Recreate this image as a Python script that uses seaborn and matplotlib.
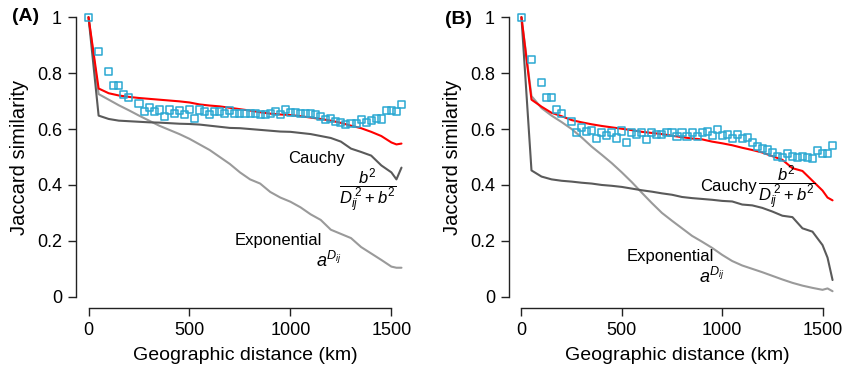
import numpy as np
import pandas as pd
import matplotlib
matplotlib.use("Agg")
import matplotlib.pyplot as plt
import seaborn as sns

# distance grid for the model curves (km)
line_dist = [0, 50, 100, 150, 200, 250, 300, 350, 400, 450, 500, 550, 600, 650, 700, 750,
             800, 850, 900, 950, 1000, 1050, 1100, 1150, 1200, 1250, 1300, 1350, 1400,
             1450, 1500, 1525, 1550]

# distance bins for observed similarity (km)
obs_dist = [0, 50, 100, 125, 150, 175, 200] + list(range(250, 1551, 25))

# panel A
obs_a = [1.0, 0.876, 0.805, 0.757, 0.757, 0.724, 0.712,
         0.690, 0.662, 0.676, 0.662, 0.668, 0.644, 0.668, 0.655, 0.667, 0.652, 0.670,
         0.638, 0.668, 0.664, 0.652, 0.662, 0.662, 0.657, 0.667, 0.655, 0.655, 0.655,
         0.657, 0.655, 0.652, 0.652, 0.657, 0.662, 0.652, 0.670, 0.660, 0.660, 0.655,
         0.655, 0.655, 0.652, 0.644, 0.635, 0.638, 0.627, 0.624, 0.615, 0.619, 0.620,
         0.635, 0.624, 0.632, 0.638, 0.636, 0.667, 0.667, 0.662, 0.687]
fit_a = [1.0, 0.745, 0.728, 0.720, 0.715, 0.711, 0.708, 0.705, 0.702, 0.699, 0.695, 0.688,
         0.684, 0.681, 0.676, 0.671, 0.666, 0.660, 0.655, 0.652, 0.650, 0.646, 0.641,
         0.636, 0.630, 0.622, 0.612, 0.603, 0.590, 0.575, 0.552, 0.545, 0.548]
cauchy_a = [1.0, 0.648, 0.636, 0.630, 0.628, 0.626, 0.624, 0.623, 0.621, 0.619, 0.618,
            0.616, 0.612, 0.608, 0.604, 0.603, 0.600, 0.597, 0.594, 0.591, 0.590, 0.586,
            0.582, 0.575, 0.568, 0.555, 0.530, 0.518, 0.505, 0.470, 0.445, 0.420, 0.462]
expo_a = [1.0, 0.725, 0.705, 0.685, 0.667, 0.648, 0.630, 0.612, 0.597, 0.582, 0.565,
          0.545, 0.525, 0.500, 0.475, 0.445, 0.420, 0.405, 0.375, 0.355, 0.340, 0.320,
          0.295, 0.275, 0.240, 0.225, 0.210, 0.178, 0.155, 0.132, 0.108, 0.104, 0.104]

# panel B
obs_b = [1.0, 0.849, 0.766, 0.712, 0.712, 0.671, 0.655,
         0.626, 0.588, 0.605, 0.591, 0.594, 0.567, 0.588, 0.576, 0.588, 0.568, 0.593,
         0.551, 0.588, 0.580, 0.588, 0.564, 0.588, 0.580, 0.580, 0.586, 0.588, 0.574,
         0.588, 0.574, 0.586, 0.573, 0.588, 0.592, 0.576, 0.597, 0.576, 0.581, 0.567,
         0.580, 0.567, 0.571, 0.551, 0.537, 0.531, 0.525, 0.516, 0.502, 0.499, 0.514,
         0.502, 0.499, 0.502, 0.499, 0.495, 0.523, 0.514, 0.511, 0.541]
fit_b = [1.0, 0.705, 0.680, 0.658, 0.646, 0.632, 0.624, 0.617, 0.611, 0.606, 0.601, 0.596,
         0.590, 0.586, 0.582, 0.576, 0.571, 0.566, 0.563, 0.555, 0.549, 0.542, 0.533,
         0.525, 0.516, 0.503, 0.490, 0.460, 0.450, 0.415, 0.380, 0.355, 0.345]
cauchy_b = [1.0, 0.452, 0.430, 0.420, 0.415, 0.412, 0.408, 0.405, 0.400, 0.397, 0.393,
            0.387, 0.381, 0.376, 0.370, 0.365, 0.357, 0.353, 0.350, 0.347, 0.343, 0.341,
            0.330, 0.327, 0.318, 0.305, 0.290, 0.285, 0.245, 0.233, 0.185, 0.140, 0.060]
expo_b = [1.0, 0.718, 0.675, 0.648, 0.625, 0.600, 0.570, 0.537, 0.508, 0.478, 0.445,
          0.410, 0.372, 0.335, 0.300, 0.272, 0.245, 0.218, 0.197, 0.175, 0.150, 0.128,
          0.112, 0.100, 0.088, 0.075, 0.062, 0.050, 0.040, 0.032, 0.025, 0.030, 0.020]

sns.set_style("ticks")
plt.rcParams['font.family'] = ['Liberation Sans', 'DejaVu Sans']
plt.rcParams['mathtext.fontset'] = 'custom'
plt.rcParams['mathtext.rm'] = 'Liberation Sans'
plt.rcParams['mathtext.it'] = 'Liberation Sans:italic'
plt.rcParams['text.color'] = 'black'
plt.rcParams['axes.labelcolor'] = 'black'
plt.rcParams['xtick.color'] = 'black'
plt.rcParams['ytick.color'] = 'black'

fig = plt.figure(figsize=(8.45, 3.7), dpi=100)
ax_a = fig.add_axes([76 / 845, 62 / 370, 338 / 845, 302 / 370])
ax_b = fig.add_axes([509 / 845, 62 / 370, 336 / 845, 302 / 370])

cyan = '#2aa8d2'
frac = r'$\dfrac{b^2}{D_{ij}^{\;2} + b^2}$'
expo_lab = r'$a^{D_{ij}}$'

panels = [
    (ax_a, obs_a, fit_a, cauchy_a, expo_a, '(A)'),
    (ax_b, obs_b, fit_b, cauchy_b, expo_b, '(B)'),
]

for ax, obs, fit, cau, expo, tag in panels:
    sns.lineplot(x=line_dist, y=expo, color='#9a9a9a', lw=1.5, ax=ax)
    sns.lineplot(x=line_dist, y=cau, color='#5a5a5a', lw=1.5, ax=ax)
    sns.lineplot(x=line_dist, y=fit, color='#ff0000', lw=1.5, ax=ax)
    sns.scatterplot(x=obs_dist, y=obs, marker='s', s=26, facecolor='none',
                    edgecolor=cyan, linewidth=1.1, ax=ax, zorder=5)
    ax.set_xlim(-62, 1612)
    ax.set_ylim(-0.04, 1.04)
    ax.set_xticks([0, 500, 1000, 1500])
    ax.set_yticks([0, 0.2, 0.4, 0.6, 0.8, 1])
    ax.set_yticklabels(['0', '0.2', '0.4', '0.6', '0.8', '1'])
    ax.spines['top'].set_visible(False)
    ax.spines['right'].set_visible(False)
    ax.spines['left'].set_bounds(0, 1)
    ax.spines['bottom'].set_bounds(0, 1500)
    for sp in ['left', 'bottom']:
        ax.spines[sp].set_color('#222222')
        ax.spines[sp].set_linewidth(1.0)
    ax.tick_params(length=6, width=1.0, labelsize=13, color='#222222', pad=4)
    ax.set_xlabel('Geographic distance (km)', fontsize=14, labelpad=6)
    ax.set_ylabel('Jaccard similarity', fontsize=14.5, labelpad=6)
    ax.grid(False)

# annotations panel A
ax_a.text(-0.19, 0.965, '(A)', transform=ax_a.transAxes, fontsize=14, fontweight='bold',
          ha='left', va='center')
ax_a.text(1130, 0.495, 'Cauchy', fontsize=12, ha='center', va='center')
ax_a.text(1385, 0.378, frac, fontsize=12, ha='center', va='center')
ax_a.text(940, 0.20, 'Exponential', fontsize=12, ha='center', va='center')
ax_a.text(1190, 0.13, expo_lab, fontsize=13, ha='center', va='center')

# annotations panel B
ax_b.text(-0.19, 0.955, '(B)', transform=ax_b.transAxes, fontsize=14, fontweight='bold',
          ha='left', va='center')
ax_b.text(1030, 0.393, 'Cauchy', fontsize=12, ha='center', va='center')
ax_b.text(1320, 0.39, frac, fontsize=12, ha='center', va='center')
ax_b.text(740, 0.143, 'Exponential', fontsize=12, ha='center', va='center')
ax_b.text(950, 0.071, expo_lab, fontsize=13, ha='center', va='center')

fig.savefig('out.png', dpi=100)
